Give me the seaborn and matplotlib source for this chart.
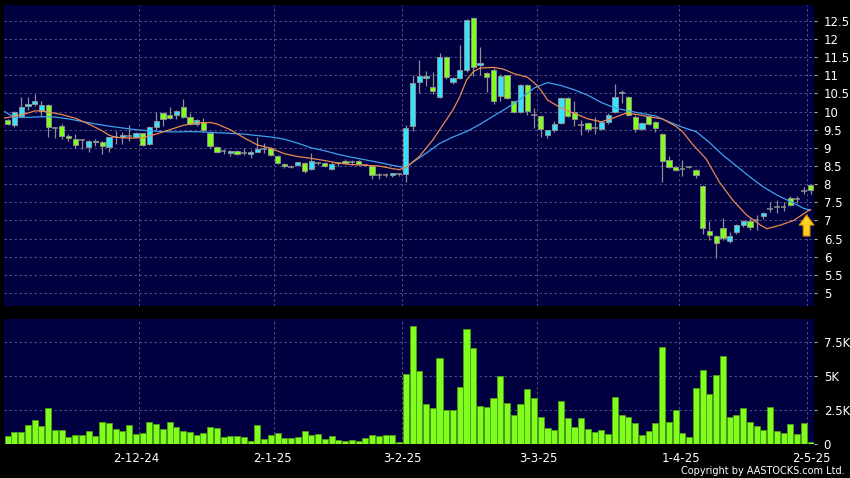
import numpy as np
import pandas as pd
import matplotlib
matplotlib.use('Agg')
import matplotlib.pyplot as plt
import seaborn as sns

sns.set_style('dark')
plt.rcParams['font.family'] = ['DejaVu Sans']

# daily candles, Nov-24 .. 2-May-25 (one entry per trading day)
opens = [9.77, 9.63, 9.88, 10.16, 10.20, 10.03, 10.18, 9.56, 9.60, 9.33,
         9.24, 9.23, 9.03, 9.16, 9.16, 9.02, 9.31, 9.30, 9.32, 9.31,
         9.40, 9.10, 9.57, 9.95, 9.90, 9.90, 10.12, 9.85, 9.66, 9.70,
         9.42, 9.02, 8.92, 8.86, 8.92, 8.85, 8.84, 8.90, 8.98, 9.01,
         8.79, 8.56, 8.48, 8.53, 8.59, 8.42, 8.58, 8.58, 8.42, 8.57,
         8.65, 8.60, 8.63, 8.53, 8.51, 8.25, 8.25, 8.24, 8.27, 8.28,
         9.59, 10.83, 10.92, 10.69, 10.40, 11.50, 10.81, 10.92, 11.15, 12.57,
         11.29, 11.06, 11.15, 10.43, 11.00, 10.28, 10.00, 10.74, 9.92, 9.88,
         9.36, 9.50, 9.68, 10.37, 9.98, 9.63, 9.68, 9.56, 9.52, 9.72,
         9.98, 10.52, 10.40, 9.86, 9.51, 9.88, 9.71, 9.38, 8.67, 8.47,
         8.42, 8.48, 8.39, 7.96, 6.71, 6.58, 6.78, 6.42, 6.67, 6.88,
         6.98, 7.02, 7.12, 7.32, 7.36, 7.36, 7.61, 7.58, 7.82, 7.98]
highs = [9.80, 10.02, 10.41, 10.40, 10.48, 10.30, 10.20, 9.58, 9.65, 9.38,
         9.38, 9.25, 9.22, 9.25, 9.20, 9.30, 9.47, 9.45, 9.62, 9.45,
         9.42, 9.60, 10.00, 9.98, 10.14, 10.05, 10.34, 9.95, 9.80, 9.82,
         9.45, 9.05, 8.98, 8.95, 8.93, 9.00, 8.93, 9.31, 9.13, 9.03,
         8.80, 8.58, 8.52, 8.62, 8.60, 8.85, 8.62, 8.60, 8.60, 8.62,
         8.68, 8.66, 8.66, 8.56, 8.53, 8.30, 8.30, 8.32, 8.32, 9.63,
         11.00, 11.42, 11.12, 11.10, 11.61, 11.52, 10.96, 11.84, 12.55, 12.60,
         11.77, 11.10, 11.20, 11.05, 11.02, 10.30, 10.76, 10.76, 10.09, 9.90,
         9.50, 9.75, 10.40, 10.39, 10.28, 9.77, 9.72, 9.86, 9.72, 9.95,
         10.76, 10.60, 10.42, 9.90, 9.70, 9.90, 9.73, 9.40, 8.78, 8.50,
         8.67, 8.50, 8.41, 7.98, 6.99, 6.60, 7.06, 6.67, 6.90, 7.00,
         7.10, 7.15, 7.22, 7.50, 7.56, 7.52, 7.67, 7.67, 7.92, 8.00]
lows = [9.62, 9.58, 9.85, 10.05, 10.15, 9.85, 9.30, 9.28, 9.25, 9.20,
        9.00, 8.97, 8.90, 9.05, 8.83, 8.90, 9.12, 9.12, 9.20, 9.28,
        9.05, 9.07, 9.50, 9.60, 9.80, 9.80, 9.82, 9.62, 9.60, 9.45,
        8.99, 8.87, 8.82, 8.77, 8.80, 8.80, 8.71, 8.88, 8.85, 8.78,
        8.55, 8.45, 8.45, 8.50, 8.30, 8.40, 8.52, 8.48, 8.40, 8.50,
        8.55, 8.52, 8.52, 8.50, 8.14, 8.15, 8.20, 8.20, 8.22, 8.05,
        9.47, 10.52, 10.71, 10.49, 10.38, 10.90, 10.77, 10.90, 11.10, 10.98,
        11.00, 10.55, 10.22, 10.30, 10.35, 9.95, 9.96, 9.90, 9.54, 9.29,
        9.27, 9.45, 9.65, 9.85, 9.59, 9.36, 9.45, 9.38, 9.48, 9.66,
        9.95, 10.23, 9.88, 9.45, 9.48, 9.62, 9.45, 8.07, 8.45, 8.35,
        8.23, 8.44, 8.16, 6.63, 6.46, 5.96, 6.45, 6.38, 6.62, 6.83,
        6.74, 6.74, 7.05, 7.24, 7.20, 7.25, 7.40, 7.48, 7.73, 7.72]
closes = [9.67, 10.00, 10.14, 10.20, 10.30, 10.18, 9.57, 9.56, 9.33, 9.27,
          9.09, 9.23, 9.20, 9.20, 9.05, 9.29, 9.31, 9.36, 9.32, 9.42,
          9.09, 9.57, 9.75, 9.79, 9.82, 10.02, 9.84, 9.66, 9.77, 9.49,
          9.06, 8.90, 8.92, 8.91, 8.83, 8.85, 8.90, 8.96, 8.98, 8.80,
          8.57, 8.49, 8.48, 8.60, 8.35, 8.63, 8.58, 8.50, 8.56, 8.57,
          8.58, 8.60, 8.55, 8.53, 8.24, 8.25, 8.25, 8.30, 8.27, 9.54,
          10.80, 10.97, 10.97, 10.58, 11.50, 10.96, 10.94, 11.15, 12.53, 11.22,
          11.33, 10.95, 10.28, 10.97, 10.37, 10.00, 10.74, 10.03, 9.92, 9.51,
          9.48, 9.65, 10.37, 9.88, 9.79, 9.63, 9.52, 9.56, 9.70, 9.91,
          10.40, 10.55, 9.91, 9.51, 9.68, 9.66, 9.54, 8.63, 8.47, 8.38,
          8.42, 8.48, 8.24, 6.79, 6.60, 6.37, 6.51, 6.57, 6.87, 6.98,
          6.81, 7.02, 7.20, 7.32, 7.36, 7.36, 7.43, 7.58, 7.82, 7.84]
volumes = [560, 850, 850, 1340, 1730, 1290, 2610, 980, 980, 460,
           660, 610, 900, 560, 1590, 1490, 1070, 950, 1340, 710,
           760, 1610, 1460, 1050, 1560, 1240, 930, 850, 660, 800,
           1220, 1150, 460, 590, 590, 460, 220, 1340, 370, 630,
           760, 410, 410, 490, 900, 610, 680, 320, 540, 270,
           200, 290, 200, 410, 660, 540, 630, 630, 100, 5100,
           8660, 5340, 2950, 2600, 6300, 2500, 2460, 4200, 8400, 7000,
           2760, 2700, 3340, 4980, 2980, 2100, 2950, 4030, 3370, 1930,
           1150, 1000, 3150, 1880, 1200, 1880, 1070, 850, 1000, 710,
           3440, 2100, 1950, 1510, 660, 900, 1510, 7100, 1630, 2460,
           760, 460, 4070, 5440, 3680, 5050, 6440, 1930, 2100, 2590,
           1590, 1290, 980, 2680, 930, 760, 1440, 710, 1490, 100]

# moving averages (bar position, price)
ma_short_x = [-0.55, 1, 3, 4, 5, 6, 8, 10, 12, 14, 15, 16, 18, 20, 22, 24, 26, 28,
              30, 31, 33, 35, 37, 39, 41, 43, 45, 47, 49, 51, 53, 55, 57, 58, 59,
              61, 63, 65, 66, 67, 68, 69, 70, 72, 73.5, 75, 77, 78, 79, 80, 82,
              84, 86, 88, 90, 91.5, 93, 95, 97, 99, 100, 101.5, 103.5, 105.5,
              107.5, 109.5, 111.5, 112.5, 114.5, 116.5, 118.5, 119]
ma_short_y = [9.82, 9.87, 9.96, 10.02, 10.02, 9.99, 9.92, 9.82, 9.66, 9.47, 9.35,
              9.29, 9.27, 9.28, 9.38, 9.5, 9.62, 9.69, 9.70, 9.66, 9.5, 9.28,
              9.08, 8.99, 8.84, 8.76, 8.71, 8.65, 8.58, 8.54, 8.52, 8.5, 8.43,
              8.4, 8.46, 8.76, 9.22, 9.77, 10.05, 10.41, 10.87, 11.1, 11.2,
              11.22, 11.17, 11.05, 10.95, 10.8, 10.6, 10.32, 10.1, 9.95, 9.8,
              9.72, 9.84, 9.95, 9.93, 9.86, 9.8, 9.6, 9.45, 9.1, 8.7, 8.05,
              7.55, 7.15, 6.88, 6.77, 6.87, 7.0, 7.25, 7.3]
ma_long_x = [-0.55, 1, 3, 5, 7, 9, 11, 13, 15, 17, 19, 21, 23, 25, 27, 29, 31,
             33, 35, 37, 39, 41, 43, 45, 47, 49, 51, 53, 55, 57, 59, 60, 62, 64,
             66, 68, 70, 72, 74, 76, 78, 80, 82, 84, 86, 88, 90, 92, 94, 96, 98,
             100, 102, 104, 106, 108, 110, 112, 114, 116, 118, 119]
ma_long_y = [10.01, 9.84, 9.84, 9.86, 9.85, 9.8, 9.73, 9.66, 9.6, 9.55, 9.5,
             9.47, 9.45, 9.44, 9.45, 9.44, 9.42, 9.4, 9.38, 9.34, 9.3, 9.24,
             9.13, 9.0, 8.92, 8.82, 8.74, 8.67, 8.6, 8.52, 8.45, 8.6, 8.85,
             9.12, 9.3, 9.45, 9.65, 9.88, 10.1, 10.35, 10.65, 10.8, 10.72,
             10.6, 10.45, 10.25, 10.1, 10.02, 9.95, 9.88, 9.72, 9.57, 9.45,
             9.15, 8.8, 8.5, 8.2, 7.92, 7.7, 7.52, 7.33, 7.28]

date_labels = ['2-12-24', '2-1-25', '3-2-25', '3-3-25', '1-4-25', '2-5-25']
month_start = [20, 40, 59, 79, 100, 119]
label_pos = [19.06, 39.28, 58.54, 78.67, 99.8, 119.06]

df = pd.DataFrame({'idx': np.arange(len(opens)), 'open': opens, 'high': highs,
                   'low': lows, 'close': closes, 'volume': volumes})

panel = '#000040'
grid_c = '#5c5c8e'
up_c = '#33e4ff'
down_c = '#80ff1e'
edge_c = '#8f8f8f'
dash = (0, (3, 3))

fig = plt.figure(figsize=(8.5, 4.78), dpi=100, facecolor='black')
ax = fig.add_axes([4/850, 1-306/478, 810/850, 301/478])
axv = fig.add_axes([4/850, 1-443.7/478, 810/850, 124.7/478], sharex=ax)

for a in (ax, axv):
    a.set_facecolor(panel)
    for s in a.spines.values():
        s.set_visible(False)
    for m in month_start:
        a.axvline(m - 0.5, color=grid_c, lw=0.6, ls=dash, zorder=0)

# candles
ax.vlines(df['idx'], df['low'], df['high'], color=edge_c, lw=0.9, zorder=2)
body = df[df['close'] != df['open']]
bcol = np.where(body['close'] > body['open'], up_c, down_c)
ax.bar(body['idx'], (body['close'] - body['open']).abs(),
       bottom=body[['open', 'close']].min(axis=1), width=0.78,
       color=bcol, edgecolor=edge_c, linewidth=0.7, zorder=3)
doji = df[df['close'] == df['open']]
ax.hlines(doji['close'], doji['idx'] - 0.42, doji['idx'] + 0.42,
          color=edge_c, lw=1.1, zorder=3)

# moving averages
sns.lineplot(x=ma_long_x, y=ma_long_y, ax=ax, color='#3ea2ea', lw=0.9,
             sort=False, zorder=4)
sns.lineplot(x=ma_short_x, y=ma_short_y, ax=ax, color='#e8894f', lw=0.9,
             sort=False, zorder=5)

# up arrow under the last MA value
cx = df['idx'].iloc[-1] - 0.6
tip = ma_long_y[-1] - 0.13
arrow = [(cx, tip), (cx + 1.1, tip - 0.28), (cx + 0.5, tip - 0.28),
         (cx + 0.5, tip - 0.58), (cx - 0.5, tip - 0.58), (cx - 0.5, tip - 0.28),
         (cx - 1.1, tip - 0.28)]
ax.fill(*zip(*arrow), color='#ffd21f', ec='#d88a00', lw=0.8, zorder=6,
        clip_on=False)

ax.set_ylim(4.64, 12.94)
ax.set_yticks(np.arange(5, 12.51, 0.5))
ax.set_yticklabels(['%g' % v for v in np.arange(5, 12.51, 0.5)])
ax.yaxis.tick_right()
ax.grid(axis='y', color=grid_c, lw=0.6, ls=dash)
ax.grid(axis='x', visible=False)
ax.tick_params(axis='y', colors='#b0b0b0', labelcolor='white', labelsize=8.5,
               length=2, width=0.8, pad=5)
ax.tick_params(axis='x', bottom=False, labelbottom=False)
ax.set_xlabel('')
ax.set_ylabel('')

# volume
sns.barplot(x=df['idx'], y=df['volume'], ax=axv, native_scale=True,
            color=down_c, saturation=1, width=0.9, edgecolor='#4f9e12',
            linewidth=0.6, errorbar=None, zorder=2)
axv.set_ylim(0, 9165)
axv.set_yticks([0, 2500, 5000, 7500])
axv.set_yticklabels(['0', '2.5K', '5K', '7.5K'])
axv.yaxis.tick_right()
axv.grid(axis='y', color=grid_c, lw=0.6, ls=dash)
axv.grid(axis='x', visible=False)
axv.tick_params(axis='y', colors='#b0b0b0', labelcolor='white', labelsize=8.5,
                length=2, width=0.8, pad=5)
axv.set_xticks(label_pos)
axv.set_xticklabels(date_labels)
axv.tick_params(axis='x', colors='#b0b0b0', labelcolor='white', labelsize=8.5,
                length=3, width=0.8, pad=3)
axv.set_xlabel('')
axv.set_ylabel('')
axv.set_xlim(-0.55, 119.5)

fig.text(845/850, 1-471.5/478, 'Copyright by AASTOCKS.com Ltd.', color='white',
         fontsize=7, ha='right', va='center')

fig.savefig('out.png', dpi=100, facecolor='black')
